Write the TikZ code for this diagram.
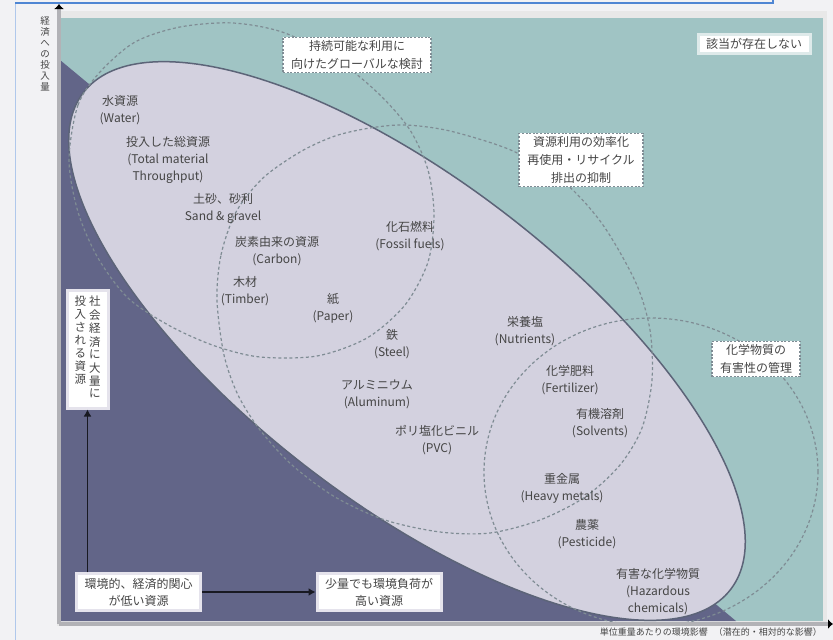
\documentclass[tikz,border=0pt]{standalone}
\usepackage{fontspec}
\newfontfamily\jp{Noto Sans CJK JP}
\usetikzlibrary{positioning}
\usetikzlibrary{arrows.meta}
\definecolor{pagegray}{HTML}{F2F2F4}
\definecolor{tealbg}{HTML}{A0C4C4}
\definecolor{navy}{HTML}{626588}
\definecolor{lav}{HTML}{D3D1DF}
\definecolor{rim}{HTML}{5C6478}
\definecolor{ringgray}{HTML}{7F8C94}
\definecolor{txt}{HTML}{454545}
\definecolor{frameblue}{HTML}{4F86D3}
\definecolor{axisgray}{HTML}{B2B2B6}

\begin{document}
\begin{tikzpicture}[x=1pt,y=-1pt,
    item/.style={font=\jp\fontsize{12}{17}\selectfont, text=txt, align=center, inner sep=0pt},
    circbox/.style={draw=ringgray, dash pattern=on 2pt off 1.6pt, line width=1.8pt, fill=white,
      font=\jp\fontsize{12}{18}\selectfont, text=txt, align=center, inner xsep=8pt, inner ysep=3pt},
    plainbox/.style={draw=lav!60!white, line width=3pt, fill=white,
      font=\jp\fontsize{12}{17}\selectfont, text=txt, align=center, inner xsep=8pt, inner ysep=4pt},
    ring/.style={draw=ringgray, line width=1.2pt, dash pattern=on 3pt off 2.5pt},
    link/.style={draw=black!75!navy, line width=1.3pt, -{Latex[length=7pt,width=8pt]}}
  ]
  \useasboundingbox (0,0) rectangle (833,640);
  \fill[pagegray] (0,0) rectangle (833,640);
  % outer frame
  \draw[frameblue!45, line width=1pt] (15,640) -- (15,3);
  \draw[frameblue, line width=1.2pt] (15,3) -- (773,3) -- (773,0);
  \fill[black!9] (57,11) rectangle (827,626);

  % plot area
  \begin{scope}
    \clip (60,18) rectangle (823,621);
    \fill[tealbg] (60,18) rectangle (823,621);
    \fill[navy] (60,60) -- (736,621) -- (60,621) -- cycle;
    \filldraw[fill=lav, draw=rim, line width=1.5pt, rotate around={-37.5:(407,341)}]
      (407,341) ellipse [x radius=408pt, y radius=161pt];
    % global use
    \draw[ring] plot[smooth cycle] coordinates {(69,160) (78,105) (100,72) (135,42) (180,27)
      (233,23) (285,33) (340,62) (380,95) (410,130) (428,170) (434,215) (428,262) (405,305)
      (367,338) (317,356) (260,357) (215,346) (170,326) (128,298) (98,258) (78,212)};
    % efficiency
    \draw[ring] plot[smooth cycle] coordinates {(217,300) (221,255) (236,212) (263,178)
      (300,152) (335,136) (370,128) (405,125) (450,131) (513,151) (565,183) (603,225)
      (636,283) (650,330) (652,380) (642,428) (620,465) (585,497) (540,520) (490,533)
      (440,532) (385,520) (335,497) (292,465) (260,430) (238,395) (224,355)};
    % chemicals
    \draw[ring] (651,472) ellipse [x radius=167pt, y radius=154pt];
  \end{scope}

  % axes
  \coordinate (orig) at (59,624);
  \coordinate (ytip) at (59,4);
  \coordinate (xtip) at (833,624);
  \draw[axisgray, line width=3.5pt, -{Latex[length=5pt,width=10pt,color=black]}] (orig) -- (ytip);
  \draw[axisgray, line width=3.5pt, -{Latex[length=5pt,width=10pt,color=black]}] (orig) -- (xtip);
  \node[font=\jp\fontsize{9.5}{11}\selectfont, text=txt, inner sep=0pt] (ylbl) at (45,55)
    {\begin{tabular}{@{}c@{}}経\\済\\へ\\の\\投\\入\\量\end{tabular}};
  \node[font=\jp\fontsize{9}{10}\selectfont, text=txt, anchor=east, inner sep=0pt] (xlbl) at (822,632)
    {単位重量あたりの環境影響\hspace{6pt}（潜在的・相対的な影響）};

  % resources
  \node[item] (water) at (120,110) {水資源\\(Water)};
  \node[item] (tmt) at (168,160) {投入した総資源\\(Total material\\Throughput)};
  \node[item] (sand) at (223,208) {土砂、砂利\\Sand \& gravel};
  \node[item] (carbon) at (277,251) {炭素由来の資源\\(Carbon)};
  \node[item] (fossil) at (410,236) {化石燃料\\(Fossil fuels)};
  \node[item] (timber) at (245,291) {木材\\(Timber)};
  \node[item] (paper) at (333,308) {紙\\(Paper)};
  \node[item] (steel) at (392,344) {鉄\\(Steel)};
  \node[item] (alu) at (377,394) {アルミニウム\\(Aluminum)};
  \node[item] (pvc) at (437,440) {ポリ塩化ビニル\\(PVC)};
  \node[item] (nutr) at (525,331) {栄養塩\\(Nutrients)};
  \node[item] (fert) at (570,380) {化学肥料\\(Fertilizer)};
  \node[item] (solv) at (600,423) {有機溶剤\\(Solvents)};
  \node[item] (metal) at (562,488) {重金属\\(Heavy metals)};
  \node[item] (pest) at (587,534) {農薬\\(Pesticide)};
  \node[item] (hazard) at (658,592) {有害な化学物質\\(Hazardous\\chemicals)};

  % boxes
  \node[circbox] (globbox) at (357,55) {持続可能な利用に\\向けたグローバルな検討};
  \node[circbox] (effbox) at (581,160) {資源利用の効率化\\再使用・リサイクル\\排出の抑制};
  \node[circbox] (chembox) at (756,359) {化学物質の\\有害性の管理};
  \node[plainbox, draw=tealbg!35!white] (nonebox) at (754,44) {該当が存在しない};
  \node[plainbox, font=\jp\fontsize{11.5}{12.6}\selectfont, minimum width=41pt, minimum height=118pt,
    inner sep=2pt] (bigbox) at (87.5,349)
    {\begin{tabular}[t]{@{}c@{}}投\\入\\さ\\れ\\る\\資\\源\end{tabular}\hspace{3pt}%
     \begin{tabular}[t]{@{}c@{}}社\\会\\経\\済\\に\\大\\量\\に\end{tabular}};
  \node[plainbox] (lowbox) at (138.5,592) {環境的、経済的関心\\が低い資源};
  \node[plainbox] (highbox) at (379,592) {少量でも環境負荷が\\高い資源};

  \draw[link] (bigbox.south |- lowbox.north) -- (bigbox.south);
  \draw[link] (lowbox) -- (highbox);
\end{tikzpicture}
\end{document}
